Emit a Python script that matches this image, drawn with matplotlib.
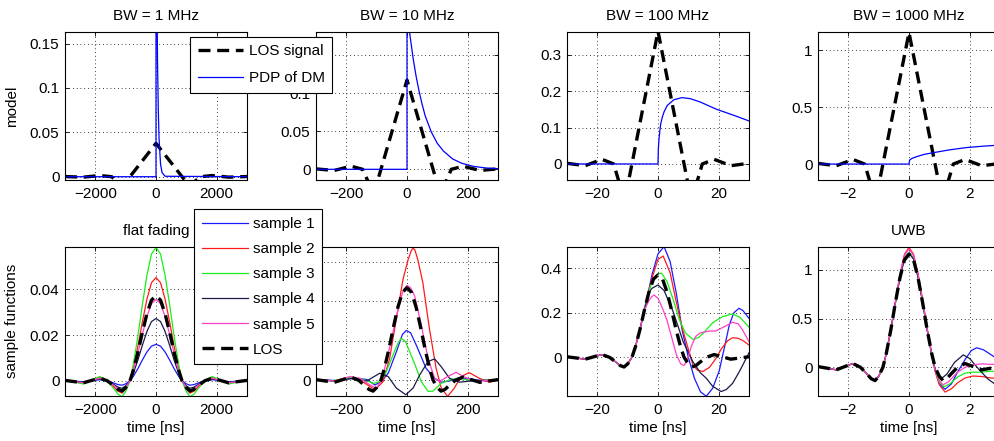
import numpy as np
import matplotlib
matplotlib.use("Agg")
import matplotlib.pyplot as plt
from matplotlib.lines import Line2D

plt.rcParams['font.family'] = ['Liberation Sans', 'DejaVu Sans']
plt.rcParams['font.size'] = 11

# --- panel setup ------------------------------------------------------------
BW_TITLES = ["BW = 1 MHz", "BW = 10 MHz", "BW = 100 MHz", "BW = 1000 MHz"]
BOTTOM_TITLES = ["flat fading", "", "", "UWB"]
T_UNIT = [1000, 100, 10, 1]                      # ns per 1/BW
XTICKS = [[-2000, 0, 2000], [-200, 0, 200], [-20, 0, 20], [-2, 0, 2]]
TOP_YLIM = [(-0.0037, 0.163), (-0.014, 0.18), (-0.044, 0.362), (-0.14, 1.16)]
TOP_YTICKS = [[0, 0.05, 0.1, 0.15], [0, 0.05, 0.1, 0.15], [0, 0.1, 0.2, 0.3], [0, 0.5, 1]]
BOT_YLIM = [(-0.0066, 0.0587), (-0.02, 0.169), (-0.174, 0.497), (-0.295, 1.238)]
BOT_YTICKS = [[0, 0.02, 0.04], [0, 0.05, 0.1, 0.15], [0, 0.2, 0.4], [0, 0.5, 1]]

SAMPLE_LABELS = ["sample 1", "sample 2", "sample 3", "sample 4", "sample 5"]
SAMPLE_COLORS = ["#1a1aff", "#ff1a1a", "#1aee1a", "#1a1a4a", "#ff40c8"]

# --- top row: LOS signal (time in units of 1/BW, peak-normalised) -----------
TOP_LOS_T = [-3.0, -2.4, -1.85, -1.46, -1.1, 0.0, 1.1, 1.46, 1.85, 2.4, 3.0]
TOP_LOS_V = [0.005, -0.013, 0.035, 0.0, -0.28, 1.0, -0.28, 0.0, 0.035, -0.013, 0.005]
TOP_LOS_PEAK = [0.0376, 0.117, 0.364, 1.155]

# --- top row: PDP of DM (time in ns) ----------------------------------------
PDP1_T = [-3000, 0, 0, 25, 50, 75, 100, 150, 200, 300, 3000]
PDP1_V = [0, 0, 0.4, 0.23, 0.13, 0.076, 0.043, 0.014, 0.0047, 0.0005, 0]
PDP2_T = [-300, 0, 0, 10, 20, 30, 40, 50, 60, 80, 100, 120, 150, 180, 220, 260, 300]
PDP2_V = [0, 0, 0.21, 0.175, 0.146, 0.122, 0.102, 0.085, 0.070, 0.049, 0.034,
          0.024, 0.0137, 0.008, 0.0038, 0.0018, 0.0009]
PDP3_T = [-30, 0, 0.1, 0.3, 0.6, 0.9, 1.4, 2, 3, 5.2, 7.9, 10.7, 13.9, 19.3, 24.8, 30]
PDP3_V = [0, 0, 0.04, 0.065, 0.09, 0.11, 0.128, 0.143, 0.16, 0.176, 0.182, 0.179,
          0.17, 0.15, 0.134, 0.118]
PDP4_T = [-3, 0, 0.02, 0.1, 0.24, 0.5, 0.8, 1.34, 1.9, 2.44, 3.0]
PDP4_V = [0, 0, 0.035, 0.05, 0.064, 0.085, 0.10, 0.125, 0.145, 0.157, 0.167]

# --- bottom row: LOS pulse (time in units of 1/BW, peak-normalised) ---------
LOS_T = [-3.0, -2.7, -2.4, -2.1, -1.85, -1.6, -1.4, -1.25, -1.12, -1.0, -0.86,
         -0.75, -0.6, -0.45, -0.3, -0.15, 0.0, 0.15, 0.3, 0.45, 0.6, 0.75, 0.86,
         1.0, 1.12, 1.25, 1.4, 1.6, 1.85, 2.1, 2.4, 2.7, 3.0]
LOS_V = [0.006, -0.008, -0.023, 0.008, 0.033, 0.0, -0.055, -0.1, -0.118, -0.08, 0.0,
         0.12, 0.33, 0.57, 0.79, 0.95, 1.0, 0.95, 0.79, 0.57, 0.33, 0.12, 0.0,
         -0.08, -0.118, -0.1, -0.055, 0.0, 0.033, 0.008, -0.023, -0.008, 0.006]
LOS_PEAK = [0.0372, 0.117, 0.37, 1.16]

# flat fading: each sample is the LOS pulse with a gain
FLAT_GAIN = [0.43, 1.215, 1.57, 0.734, 0.957]

# BW = 10 MHz sample functions (t in 1/BW)
P2_T = [
    [-3.0, -2.32, -1.77, -1.33, -1.06, -0.84, -0.62, -0.35, -0.15, -0.02, 0.12, 0.31,
     0.63, 0.91, 1.13, 1.4, 1.73, 2.16, 2.6, 3.0],
    [-3.0, -2.43, -1.88, -1.44, -1.06, -0.79, -0.57, -0.35, -0.13, 0.04, 0.14, 0.2,
     0.26, 0.36, 0.52, 0.74, 0.96, 1.13, 1.34, 1.56, 1.78, 2.05, 2.38, 2.71, 3.0],
    [-3.0, -2.5, -1.88, -1.44, -1.11, -0.95, -0.73, -0.46, -0.3, -0.19, -0.05, 0.09,
     0.31, 0.47, 0.69, 0.85, 1.13, 1.4, 1.73, 2.16, 2.6, 3.0],
    [-3.0, -2.4, -1.77, -1.33, -0.9, -0.62, -0.35, -0.04, 0.2, 0.42, 0.69, 0.91, 1.13,
     1.4, 1.73, 2.16, 2.6, 3.0],
    [-3.0, -2.4, -1.88, -1.55, -1.22, -1.01, -0.84, -0.68, -0.46, -0.24, -0.12, 0.0,
     0.12, 0.25, 0.47, 0.69, 0.91, 1.07, 1.34, 1.62, 1.89, 2.27, 2.7, 3.0],
]
P2_V = [
    [0.001, -0.0005, 0.0025, 0.001, -0.006, -0.0017, 0.0088, 0.036, 0.058, 0.063, 0.06,
     0.044, 0.015, 0.0025, -0.0025, -0.001, 0.0034, 0.001, -0.001, 0.001],
    [0.0005, -0.001, 0.0034, -0.0025, -0.012, -0.002, 0.028, 0.078, 0.128, 0.153, 0.164,
     0.167, 0.165, 0.152, 0.124, 0.065, 0.015, -0.01, -0.0205, -0.01, 0.0046, 0.0096,
     0.0025, -0.0025, 0.0],
    [0.001, -0.001, 0.0034, 0.001, -0.004, -0.0025, 0.0067, 0.032, 0.047, 0.053, 0.049,
     0.036, 0.015, -0.0017, -0.014, -0.014, -0.004, 0.0004, 0.0025, -0.0008, 0.0, 0.001],
    [0.001, -0.001, 0.0025, -0.001, 0.0088, 0.0046, -0.01, -0.0184, -0.01, 0.0067,
     0.0235, 0.027, 0.017, 0.0025, -0.0025, -0.0008, 0.0, 0.001],
    [0.001, -0.001, 0.0046, 0.0025, -0.006, -0.01, 0.0, 0.0235, 0.061, 0.099, 0.114,
     0.12, 0.117, 0.107, 0.07, 0.028, 0.0025, -0.0017, 0.0046, 0.01, 0.004, -0.0017,
     0.0, 0.001],
]

# BW = 100 MHz sample functions (after they leave the LOS pulse)
P3_T = [
    [-0.45, -0.3, -0.2, 0, 0.2, 0.4, 0.6, 0.8, 1.0, 1.2, 1.4, 1.59, 1.8, 2.02, 2.2,
     2.35, 2.5, 2.67, 2.8, 3.0],
    [-0.45, -0.3, -0.2, 0, 0.17, 0.4, 0.6, 0.8, 0.93, 1.15, 1.3, 1.48, 1.7, 1.91, 2.1,
     2.3, 2.46, 2.65, 2.8, 3.0],
    [-0.45, -0.3, -0.2, 0, 0.12, 0.3, 0.5, 0.7, 0.9, 1.15, 1.35, 1.59, 1.8, 2.13, 2.46,
     2.7, 3.0],
    [-0.45, -0.3, -0.2, 0, 0.2, 0.5, 0.83, 1.15, 1.4, 1.59, 1.8, 2.08, 2.25, 2.46, 2.7,
     3.0],
    [-0.45, -0.3, -0.2, -0.13, 0, 0.15, 0.3, 0.45, 0.61, 0.75, 0.85, 0.95, 1.1, 1.25,
     1.4, 1.7, 1.9, 2.15, 2.46, 2.65, 2.8, 3.0],
]
P3_V = [
    [0.215, 0.305, 0.37, 0.465, 0.497, 0.43, 0.29, 0.12, 0.0, -0.094, -0.155, -0.175,
     -0.14, -0.06, 0.05, 0.145, 0.2, 0.22, 0.21, 0.175],
    [0.213, 0.3, 0.355, 0.44, 0.455, 0.38, 0.25, 0.13, 0.07, -0.034, -0.058, -0.064,
     -0.045, -0.005, 0.04, 0.075, 0.088, 0.085, 0.075, 0.055],
    [0.212, 0.295, 0.34, 0.375, 0.378, 0.34, 0.26, 0.17, 0.11, 0.08, 0.09, 0.123, 0.155,
     0.183, 0.195, 0.18, 0.135],
    [0.211, 0.29, 0.31, 0.325, 0.30, 0.205, 0.07, -0.02, -0.07, -0.094, -0.13, -0.154,
     -0.145, -0.117, -0.06, 0.02],
    [0.21, 0.255, 0.273, 0.28, 0.265, 0.22, 0.165, 0.09, 0.01, -0.03, -0.037, -0.02,
     0.05, 0.095, 0.11, 0.118, 0.118, 0.135, 0.157, 0.15, 0.12, 0.07],
]

# BW = 1000 MHz (UWB) sample functions
P4_T = [
    [-0.45, -0.3, -0.15, 0, 0.15, 0.3, 0.45, 0.6, 0.75, 0.86, 1.0, 1.19, 1.4, 1.6, 1.85,
     2.05, 2.23, 2.45, 2.7, 3.0],
    [-0.45, -0.3, -0.15, 0, 0.15, 0.3, 0.45, 0.6, 0.75, 0.86, 1.0, 1.19, 1.4, 1.6, 1.85,
     2.1, 2.4, 2.7, 3.0],
    [-0.45, -0.3, -0.15, 0, 0.15, 0.3, 0.45, 0.6, 0.75, 0.86, 1.0, 1.15, 1.35, 1.6, 1.85,
     2.1, 2.4, 2.7, 3.0],
    [-0.45, -0.3, -0.15, 0, 0.15, 0.3, 0.45, 0.6, 0.75, 0.86, 1.0, 1.08, 1.25, 1.5, 1.79,
     2.0, 2.3, 2.6, 2.8, 3.0],
    [-0.45, -0.3, -0.15, 0, 0.15, 0.3, 0.45, 0.6, 0.75, 0.86, 1.0, 1.12, 1.3, 1.6, 1.85,
     2.1, 2.4, 2.7, 3.0],
]
P4_V = [
    [0.66, 0.925, 1.12, 1.18, 1.12, 0.93, 0.67, 0.385, 0.13, -0.03, -0.17, -0.226, -0.17,
     -0.05, 0.08, 0.17, 0.2, 0.18, 0.13, 0.07],
    [0.67, 0.95, 1.16, 1.23, 1.16, 0.96, 0.69, 0.40, 0.13, -0.04, -0.18, -0.255, -0.22,
     -0.16, -0.11, -0.09, -0.095, -0.11, -0.115],
    [0.66, 0.925, 1.12, 1.18, 1.12, 0.93, 0.67, 0.385, 0.13, -0.03, -0.15, -0.2, -0.17,
     -0.1, -0.06, -0.05, -0.05, -0.04, -0.045],
    [0.66, 0.92, 1.11, 1.17, 1.11, 0.92, 0.665, 0.38, 0.13, -0.02, -0.1, -0.113, -0.07,
     0.05, 0.127, 0.09, -0.02, -0.12, -0.165, -0.18],
    [0.665, 0.94, 1.15, 1.215, 1.15, 0.95, 0.68, 0.39, 0.13, -0.03, -0.14, -0.18, -0.15,
     -0.05, 0.0, 0.025, 0.035, 0.03, 0.03],
]

PDP_T = [PDP1_T, PDP2_T, PDP3_T, PDP4_T]
PDP_V = [PDP1_V, PDP2_V, PDP3_V, PDP4_V]

W, H = 994, 441
LEFTS = [65, 316, 567, 818]
LOS_STYLE = dict(color="k", linestyle="--", linewidth=2.4, dashes=(3.6, 2.0))
THIN = 0.9


def fmt(v):
    return f"{v:g}".replace("-", "\u2212")


def style(ax, xt, xlim, yt, ylim):
    ax.set_xlim(xlim)
    ax.set_ylim(ylim)
    ax.set_xticks(xt)
    ax.set_xticklabels([fmt(v) for v in xt])
    ax.set_yticks(yt)
    ax.set_yticklabels([fmt(v) for v in yt])
    ax.grid(True, color="k", linestyle=(0, (1, 3.5)), linewidth=0.6)
    ax.tick_params(direction="in", length=3, width=0.6, top=True, right=True)
    ax.tick_params(axis="x", pad=5)
    ax.tick_params(axis="y", pad=4)
    for s in ax.spines.values():
        s.set_linewidth(0.8)


def with_los_head(ts, vs, peak):
    # samples coincide with the LOS pulse before their first listed point
    los_t = np.array(LOS_T)
    los_v = np.array(LOS_V) * peak
    keep = los_t < ts[0]
    return np.r_[los_t[keep], ts], np.r_[los_v[keep], vs]


fig = plt.figure(figsize=(W / 100, H / 100), dpi=100)

for i in range(4):
    u = T_UNIT[i]
    xlim = (-3 * u, 3 * u)

    # top row
    ax = fig.add_axes([LEFTS[i] / W, 1 - 180 / H, 182 / W, 148 / H])
    ax.plot(np.array(TOP_LOS_T) * u, np.array(TOP_LOS_V) * TOP_LOS_PEAK[i], **LOS_STYLE)
    ax.plot(PDP_T[i], PDP_V[i], color="#0000ff", linewidth=THIN)
    style(ax, XTICKS[i], xlim, TOP_YTICKS[i], TOP_YLIM[i])
    ax.set_title(BW_TITLES[i], pad=8.5, fontsize=11)
    if i == 0:
        ax.set_ylabel("model", labelpad=8)

    # bottom row
    ax = fig.add_axes([LEFTS[i] / W, 1 - 396 / H, 182 / W, 149.3 / H])
    for k in range(5):
        if i == 0:
            t, v = np.array(LOS_T), np.array(LOS_V) * LOS_PEAK[0] * FLAT_GAIN[k]
        elif i == 1:
            t, v = np.array(P2_T[k]), np.array(P2_V[k])
        elif i == 2:
            t, v = with_los_head(P3_T[k], P3_V[k], LOS_PEAK[2])
        else:
            t, v = with_los_head(P4_T[k], P4_V[k], LOS_PEAK[3])
        ax.plot(t * u, v, color=SAMPLE_COLORS[k], linewidth=THIN)
    ax.plot(np.array(LOS_T) * u, np.array(LOS_V) * LOS_PEAK[i], **LOS_STYLE)
    style(ax, XTICKS[i], xlim, BOT_YTICKS[i], BOT_YLIM[i])
    ax.set_xlabel("time [ns]", labelpad=3)
    if BOTTOM_TITLES[i]:
        ax.set_title(BOTTOM_TITLES[i], pad=8.5, fontsize=11)
    if i == 0:
        ax.set_ylabel("sample functions", labelpad=8)

# legends
leg_kw = dict(loc="upper left", bbox_transform=fig.transFigure, borderaxespad=0,
              frameon=True, fancybox=False, edgecolor="k", framealpha=1,
              handlelength=3.0, handletextpad=0.35, fontsize=11)

top_handles = [Line2D([], [], **LOS_STYLE), Line2D([], [], color="#0000ff", linewidth=THIN)]
lg = fig.legend(top_handles, ["LOS signal", "PDP of DM"],
                bbox_to_anchor=(190 / W, 1 - 36.7 / H), borderpad=0.5, labelspacing=0.84,
                **leg_kw)
lg.get_frame().set_linewidth(0.8)

bot_handles = [Line2D([], [], color=c, linewidth=THIN) for c in SAMPLE_COLORS]
bot_handles.append(Line2D([], [], **LOS_STYLE))
lg = fig.legend(bot_handles, SAMPLE_LABELS + ["LOS"],
                bbox_to_anchor=(194.3 / W, 1 - 209.3 / H), borderpad=0.5, labelspacing=0.73,
                **leg_kw)
lg.get_frame().set_linewidth(0.8)

fig.savefig("out.png", dpi=100)
